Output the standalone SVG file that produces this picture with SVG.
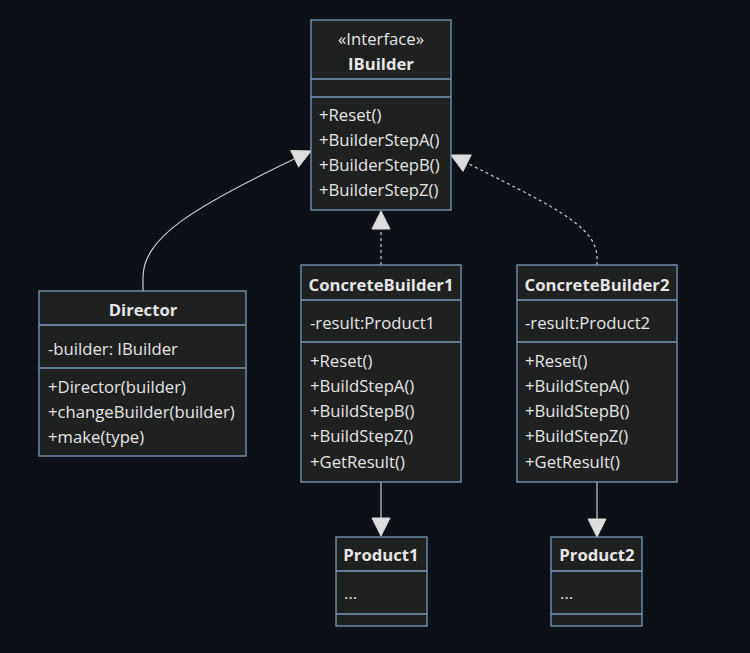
<svg xmlns="http://www.w3.org/2000/svg" width="750" height="653" viewBox="0 0 750 653">
<style>
.box{fill:#1f2020;stroke:#7a9abb;stroke-width:1.3}
.div{stroke:#7a9abb;stroke-width:1.3}
.t{font-family:"Open Sans","Liberation Sans",Arial,sans-serif;font-size:16.7px;fill:#e6e6e6}
.b{font-weight:bold}
.c{text-anchor:middle}
.edge{fill:none;stroke:#cccccc;stroke-width:1.2}
.dash{stroke-dasharray:3 3}
</style>
<defs>
<marker id="tri" viewBox="0 0 20 20" refX="19" refY="10" markerWidth="20" markerHeight="20" markerUnits="userSpaceOnUse" orient="auto">
<path d="M1,1 L19,10 L1,19 Z" fill="#dddddd" stroke="#dddddd" stroke-width="1"/>
</marker>
</defs>
<rect width="750" height="653" fill="#0d1117"/>
<g id="connectors">
<path class="edge" d="M143,291 L143,278 C143,238 190,208 311,151" marker-end="url(#tri)"/>
<path class="edge dash" d="M381,265 L381,211" marker-end="url(#tri)"/>
<path class="edge dash" d="M597,265 L597,258 C597,225 550,205 451,155" marker-end="url(#tri)"/>
<path class="edge" d="M381,482 L381,536" marker-end="url(#tri)"/>
<path class="edge" d="M597,482 L597,537" marker-end="url(#tri)"/>
</g>
<g id="IBuilder">
<rect class="box" x="311" y="20" width="140" height="190"/>
<line class="div" x1="311" y1="79" x2="451" y2="79"/>
<line class="div" x1="311" y1="97" x2="451" y2="97"/>
<text class="t c" x="381" y="45">«Interface»</text>
<text class="t c b" x="381" y="70">IBuilder</text>
<text class="t" x="319" y="121">+Reset()</text>
<text class="t" x="319" y="146">+BuilderStepA()</text>
<text class="t" x="319" y="171">+BuilderStepB()</text>
<text class="t" x="319" y="196">+BuilderStepZ()</text>
</g>
<g id="Director">
<rect class="box" x="39" y="291" width="207" height="165"/>
<line class="div" x1="39" y1="325" x2="246" y2="325"/>
<line class="div" x1="39" y1="368" x2="246" y2="368"/>
<text class="t c b" x="143" y="316">Director</text>
<text class="t" x="48" y="355">-builder: IBuilder</text>
<text class="t" x="48" y="393">+Director(builder)</text>
<text class="t" x="48" y="418">+changeBuilder(builder)</text>
<text class="t" x="48" y="443">+make(type)</text>
</g>
<g id="ConcreteBuilder1">
<rect class="box" x="301" y="265" width="160" height="217"/>
<line class="div" x1="301" y1="300" x2="461" y2="300"/>
<line class="div" x1="301" y1="342" x2="461" y2="342"/>
<text class="t c b" x="381" y="291">ConcreteBuilder1</text>
<text class="t" x="310" y="329">-result:Product1</text>
<text class="t" x="310" y="367">+Reset()</text>
<text class="t" x="310" y="392">+BuildStepA()</text>
<text class="t" x="310" y="417">+BuildStepB()</text>
<text class="t" x="310" y="442">+BuildStepZ()</text>
<text class="t" x="310" y="468">+GetResult()</text>
</g>
<g id="ConcreteBuilder2">
<rect class="box" x="517" y="265" width="160" height="217"/>
<line class="div" x1="517" y1="300" x2="677" y2="300"/>
<line class="div" x1="517" y1="342" x2="677" y2="342"/>
<text class="t c b" x="597" y="291">ConcreteBuilder2</text>
<text class="t" x="525" y="329">-result:Product2</text>
<text class="t" x="525" y="367">+Reset()</text>
<text class="t" x="525" y="392">+BuildStepA()</text>
<text class="t" x="525" y="417">+BuildStepB()</text>
<text class="t" x="525" y="442">+BuildStepZ()</text>
<text class="t" x="525" y="468">+GetResult()</text>
</g>
<g id="Product1">
<rect class="box" x="336" y="537" width="91" height="89"/>
<line class="div" x1="336" y1="571" x2="427" y2="571"/>
<line class="div" x1="336" y1="614" x2="427" y2="614"/>
<text class="t c b" x="381" y="561">Product1</text>
<text class="t" x="344" y="599">...</text>
</g>
<g id="Product2">
<rect class="box" x="551" y="537" width="91" height="89"/>
<line class="div" x1="551" y1="571" x2="642" y2="571"/>
<line class="div" x1="551" y1="614" x2="642" y2="614"/>
<text class="t c b" x="597" y="561">Product2</text>
<text class="t" x="560" y="599">...</text>
</g>
</svg>
